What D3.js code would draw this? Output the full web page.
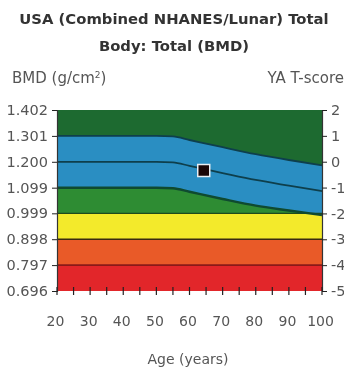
<!DOCTYPE html>
<html><head><meta charset="utf-8">
<script src="https://cdn.jsdelivr.net/npm/d3@7"></script>
<style>
html,body{margin:0;padding:0;background:#fff;}
svg{display:block;filter:blur(0.4px);}
</style></head>
<body>
<script>
// ---- data ----
const titleLines = ["USA (Combined NHANES/Lunar) Total", "Body: Total (BMD)"];
const bmdTicks = [0.696, 0.797, 0.898, 0.999, 1.099, 1.200, 1.301, 1.402];
const bmdTickLabels = ["0.696", "0.797", "0.898", "0.999", "1.099", "1.200", "1.301", "1.402"];
const tTicks = [-5, -4, -3, -2, -1, 0, 1, 2];
const tTickLabels = ["-5", "-4", "-3", "-2", "-1", "0", "1", "2"];
const ageTicks = [20, 30, 40, 50, 60, 70, 80, 90, 100];
const ageMinorTicks = [20, 25, 30, 35, 40, 45, 50, 55, 60, 65, 70, 75, 80, 85, 90, 95, 100];
// colour bands (BMD edges, bottom to top)
const bandLow = [0.696, 0.797, 0.898, 0.999];
const bandHigh = [0.797, 0.898, 0.999, 1.402];
const bandNames = ["red", "orange", "yellow", "green"];
// age-matched reference curves
const refAges = [20, 30, 40, 50, 55, 60, 70, 80, 90, 100];
const refUpper = [1.301, 1.301, 1.301, 1.301, 1.299, 1.285, 1.257, 1.230, 1.207, 1.186];
const refMean  = [1.200, 1.200, 1.200, 1.200, 1.198, 1.184, 1.156, 1.129, 1.107, 1.086];
const refLower = [1.099, 1.099, 1.099, 1.099, 1.097, 1.083, 1.055, 1.029, 1.010, 0.992];
// patient
const patientAge = [64.3];
const patientBMD = [1.166];

// ---- styles ----
const colors = {red: "#e2262a", orange: "#e95a28", yellow: "#f3ea2b", green: "#2e8c33",
  darkGreen: "#1d6a30", blue: "#2a8ec2", line: "#0e3f4c"};
const FONT = "DejaVu Sans, Verdana, sans-serif";

const W = 344, H = 370;
const svg = d3.select("body").append("svg").attr("width", W).attr("height", H);

const x = d3.scaleLinear().domain([20, 100]).range([57, 322]);
const y = d3.scaleLinear().domain([0.696, 1.402]).range([291, 110]);
const yT = d3.scaleLinear().domain([-5, 2]).range([291, 110]);

// title
svg.append("g").selectAll("text").data(titleLines).join("text")
  .attr("x", 174).attr("y", (d, i) => 24 + i * 27)
  .attr("text-anchor", "middle")
  .attr("font-family", FONT)
  .attr("font-weight", "bold").attr("font-size", 14.8).attr("fill", "#333")
  .text(d => d);

svg.append("text").attr("x", 12).attr("y", 83)
  .attr("font-family", FONT).attr("font-size", 15).attr("fill", "#555")
  .html('BMD (g/cm<tspan dy="-5" font-size="9">2</tspan><tspan dy="5">)</tspan>');
svg.append("text").attr("x", 344).attr("y", 83).attr("text-anchor", "end")
  .attr("font-family", FONT).attr("font-size", 15).attr("fill", "#555")
  .text("YA T-score");

// bands
const plot = svg.append("g");
plot.selectAll("rect.band").data(bandNames).join("rect").attr("class", "band")
  .attr("x", x(20)).attr("width", x(100) - x(20))
  .attr("y", (d, i) => y(bandHigh[i])).attr("height", (d, i) => y(bandLow[i]) - y(bandHigh[i]))
  .attr("fill", d => colors[d]);

const idx = d3.range(refAges.length);
const areaTop = d3.area().x(i => x(refAges[i])).y0(() => y(1.402)).y1(i => y(refUpper[i])).curve(d3.curveMonotoneX);
plot.append("path").datum(idx).attr("d", areaTop).attr("fill", colors.darkGreen);
const areaBlue = d3.area().x(i => x(refAges[i])).y0(i => y(refLower[i])).y1(i => y(refUpper[i])).curve(d3.curveMonotoneX);
plot.append("path").datum(idx).attr("d", areaBlue).attr("fill", colors.blue);

// band boundary lines
const boundaryLines = [0.797, 0.898];
plot.selectAll("line.bnd").data(boundaryLines).join("line").attr("class", "bnd")
  .attr("x1", x(20)).attr("x2", x(100)).attr("y1", d => y(d)).attr("y2", d => y(d))
  .attr("stroke", (d, i) => i === 0 ? "#8a1a18" : "#3a2a10").attr("stroke-width", 1.6);
plot.append("line").attr("x1", x(20)).attr("x2", x(100)).attr("y1", y(0.999)).attr("y2", y(0.999))
  .attr("stroke", "#1f4a1c").attr("stroke-width", 1.2);

// reference lines
[refUpper, refMean, refLower].forEach((arr, k) => {
  const ln = d3.line().x(i => x(refAges[i])).y(i => y(arr[i])).curve(d3.curveMonotoneX);
  plot.append("path").datum(idx).attr("d", ln).attr("fill", "none")
    .attr("stroke", k === 2 ? "#0f4a30" : colors.line).attr("stroke-width", k === 2 ? 2.4 : 1.8);
});

// patient marker
plot.selectAll("rect.pt").data(patientAge).join("rect").attr("class", "pt")
  .attr("x", (d, i) => x(d) - 6).attr("y", (d, i) => y(patientBMD[i]) - 6)
  .attr("width", 12).attr("height", 12)
  .attr("fill", "#1a0606").attr("stroke", "#e8eef2").attr("stroke-width", 1.5);

// axes
const axL = d3.axisLeft(y).tickValues(bmdTicks).tickFormat((d, i) => bmdTickLabels[i]).tickSize(5).tickPadding(4);
const gL = svg.append("g").attr("transform", `translate(${x(20)},0)`).call(axL);
const axR = d3.axisRight(yT).tickValues(tTicks).tickFormat((d, i) => tTickLabels[i]).tickSize(5).tickPadding(4);
const gR = svg.append("g").attr("transform", `translate(${x(100)},0)`).call(axR);
const axB = d3.axisBottom(x).tickValues(ageTicks).tickFormat(d3.format("d")).tickSize(0).tickPadding(25);
const gB = svg.append("g").attr("transform", `translate(-2,${y(0.696)})`).call(axB);
gB.select(".domain").remove();
svg.append("g").selectAll("line").data(ageMinorTicks).join("line")
  .attr("x1", d => x(d)).attr("x2", d => x(d)).attr("y1", y(0.696) - 4).attr("y2", y(0.696) + 4)
  .attr("stroke", "#222").attr("stroke-width", 1.2);

gL.selectAll("text").attr("font-size", 14.5);
gR.selectAll("text").attr("font-size", 14.5);
gB.selectAll("text").attr("font-size", 14);
[gL, gR, gB].forEach(g => {
  g.selectAll("text").attr("font-family", FONT).attr("fill", "#555");
  g.selectAll("line").attr("stroke", "#222");
  g.select(".domain").attr("stroke", "#333").attr("stroke-width", 1.2);
});

svg.append("text").attr("x", 188).attr("y", 364).attr("text-anchor", "middle")
  .attr("font-family", FONT).attr("font-size", 14).attr("fill", "#555")
  .text("Age (years)");
</script>
</body></html>
